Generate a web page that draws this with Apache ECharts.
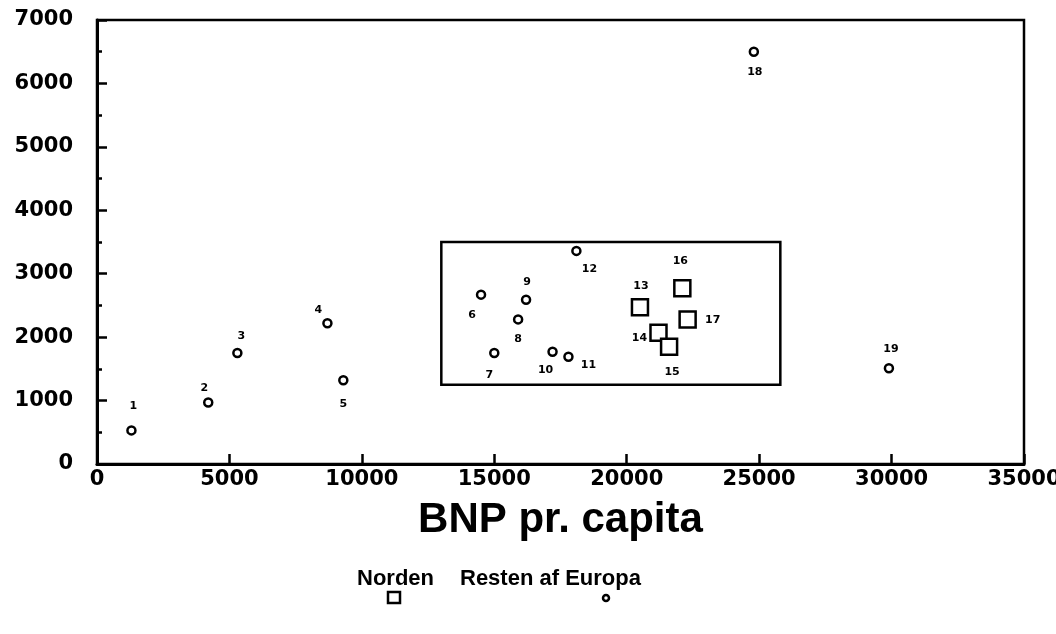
<!DOCTYPE html>
<html>
<head>
<meta charset="utf-8">
<script src="https://cdn.jsdelivr.net/npm/echarts@6/dist/echarts.min.js"></script>
<style>
    * { margin: 0; padding: 0; }
    body { background: #fff; }
    #chart { width: 1056px; height: 634px; }
</style>
</head>
<body>
<div id="chart"></div>
<script>
    // Resten af Europa (circles)
    var restNo = ['1', '2', '3', '4', '5', '6', '7', '8', '9', '10', '11', '12', '18', '19'];
    var restX = [1300, 4200, 5300, 8700, 9300, 14500, 15000, 15900, 16200, 17200, 17800, 18100, 24800, 29900];
    var restY = [530, 970, 1750, 2220, 1320, 2670, 1750, 2280, 2590, 1770, 1690, 3360, 6500, 1510];

    // Norden (squares)
    var nordenNo = ['13', '14', '15', '16', '17'];
    var nordenX = [20500, 21200, 21600, 22100, 22300];
    var nordenY = [2470, 2070, 1850, 2770, 2280];

    // the framed area round the middle group: [x, y] corners
    var boxCorners = [[13000, 3500], [25800, 1250]];

    var xTicks = [0, 35000, 5000];   // min, max, step
    var yTicks = [0, 7000, 1000];

    // where each number label sits relative to its marker (px)
    var labelOffsets = {
        '1': [2, -24], '2': [-4, -14], '3': [4, -17], '4': [-9, -13], '5': [0, 24],
        '6': [-9, 20], '7': [-5, 22], '8': [0, 20], '9': [1, -18], '10': [-7, 18],
        '11': [20, 8], '12': [13, 18], '13': [1, -21], '14': [-19, 5], '15': [3, 25],
        '16': [-2, -27], '17': [25, 1], '18': [1, 20], '19': [2, -19]
    };

    function points(nos, xs, ys) {
        return nos.map(function (no, i) {
            return {
                name: no,
                value: [xs[i], ys[i]],
                label: { offset: labelOffsets[no] }
            };
        });
    }

    var numLabel = {
        show: true,
        position: 'inside',
        formatter: '{b}',
        color: '#000',
        fontFamily: 'DejaVu Sans',
        fontWeight: 'bold',
        fontSize: 11
    };

    var tickFont = {
        color: '#000',
        fontFamily: 'DejaVu Sans',
        fontWeight: 'bold',
        fontSize: 21,
        formatter: function (v) { return String(v); }   // no thousands separator
    };

    var option = {
        animation: false,
        backgroundColor: '#fff',
        grid: {
            left: 97, right: 32, top: 20, bottom: 170,
            containLabel: false,
            outerBoundsMode: 'none',
            show: true,
            borderColor: '#000',
            borderWidth: 2.5
        },
        xAxis: {
            type: 'value',
            min: xTicks[0], max: xTicks[1], interval: xTicks[2],
            name: 'BNP pr. capita',
            nameLocation: 'middle',
            nameGap: 35,
            nameTextStyle: {
                color: '#000',
                fontFamily: 'Liberation Sans',
                fontWeight: 'bold',
                fontSize: 42
            },
            axisLine: { show: true, onZero: false, lineStyle: { color: '#000', width: 3 } },
            axisTick: { show: true, inside: true, length: 10, lineStyle: { color: '#000', width: 2.5 } },
            axisLabel: Object.assign({ margin: 5 }, tickFont),
            splitLine: { show: false }
        },
        yAxis: {
            type: 'value',
            min: yTicks[0], max: yTicks[1], interval: yTicks[2],
            axisLine: { show: true, lineStyle: { color: '#000', width: 3 } },
            axisTick: { show: true, inside: true, length: 10, lineStyle: { color: '#000', width: 2.5 } },
            minorTick: { show: true, splitNumber: 2, length: 5, lineStyle: { color: '#000', width: 2.5 } },
            axisLabel: Object.assign({ margin: 24 }, tickFont),
            splitLine: { show: false }
        },
        series: [
            {
                name: 'Resten af Europa',
                type: 'scatter',
                symbol: 'circle',
                symbolSize: 8,
                itemStyle: { color: '#fff', borderColor: '#000', borderWidth: 2.5, opacity: 1 },
                label: numLabel,
                data: points(restNo, restX, restY),
                markArea: {
                    silent: true,
                    itemStyle: { color: 'rgba(0,0,0,0)', borderColor: '#000', borderWidth: 2.5 },
                    data: [[{ coord: boxCorners[0] }, { coord: boxCorners[1] }]]
                }
            },
            {
                name: 'Norden',
                type: 'scatter',
                symbol: 'rect',
                symbolSize: 16,
                itemStyle: { color: '#fff', borderColor: '#000', borderWidth: 2.5, opacity: 1 },
                label: numLabel,
                data: points(nordenNo, nordenX, nordenY)
            }
        ],
        // legend: text with the marker below it
        graphic: [
            {
                type: 'text', left: 357, top: 568,
                style: { text: 'Norden', fill: '#000', font: 'bold 22px "Liberation Sans"' }
            },
            {
                type: 'text', left: 460, top: 568,
                style: { text: 'Resten af Europa', fill: '#000', font: 'bold 22px "Liberation Sans"' }
            },
            {
                type: 'rect', shape: { x: 388, y: 592, width: 12, height: 11 },
                style: { fill: '#fff', stroke: '#000', lineWidth: 2.5 }
            },
            {
                type: 'circle', shape: { cx: 606, cy: 598, r: 3 },
                style: { fill: '#fff', stroke: '#000', lineWidth: 2.5 }
            }
        ]
    };

    var myChart = echarts.init(document.getElementById('chart'));
    myChart.setOption(option);
</script>
</body>
</html>
